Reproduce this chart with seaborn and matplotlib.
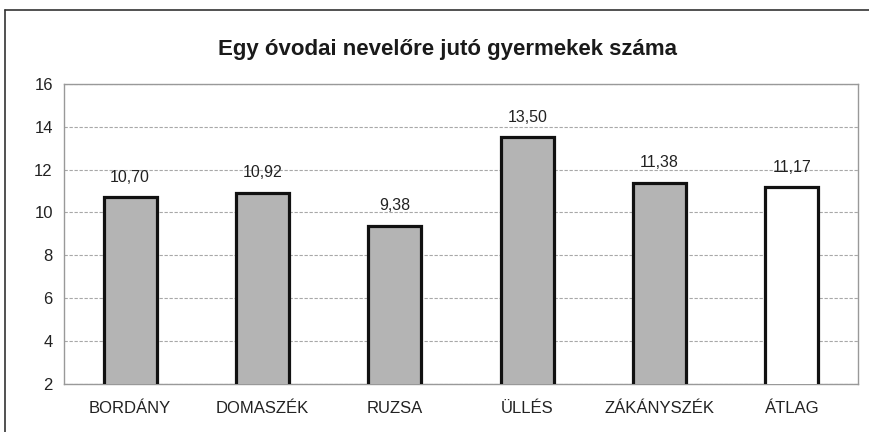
import matplotlib
matplotlib.use("Agg")
import matplotlib.pyplot as plt
from matplotlib.lines import Line2D
import seaborn as sns
import pandas as pd

# values
telepulesek = ["BORDÁNY", "DOMASZÉK", "RUZSA", "ÜLLÉS", "ZÁKÁNYSZÉK", "ÁTLAG"]
gyermek_per_nevelo = [10.70, 10.92, 9.38, 13.50, 11.38, 11.17]
cimkek = ["10,70", "10,92", "9,38", "13,50", "11,38", "11,17"]
y_ticks = [2, 4, 6, 8, 10, 12, 14, 16]

df = pd.DataFrame({"telepules": telepulesek, "ertek": gyermek_per_nevelo})

sns.set_theme(style="white")
plt.rcParams["font.family"] = ["Liberation Sans", "DejaVu Sans"]

fig = plt.figure(figsize=(8.69, 4.32), dpi=100)
ax = fig.add_axes([0.0735, 0.111, 0.914, 0.695])

colors = ["#b4b4b4"] * 5 + ["#ffffff"]
sns.barplot(data=df, x="telepules", y="ertek", hue="telepules", palette=colors,
            legend=False, width=0.4, edgecolor="#111111", linewidth=2.3, ax=ax,
            zorder=3)

for i, (v, lab) in enumerate(zip(gyermek_per_nevelo, cimkek)):
    ax.text(i, v + 0.6, lab, ha="center", va="bottom", fontsize=11.5, color="#222222")

ax.set_ylim(2, 16)
ax.set_yticks(y_ticks)
ax.set_xlim(-0.5, 5.5)
ax.yaxis.grid(True, color="#a8a8a8", linestyle=(0, (3, 1.5)), linewidth=0.8, zorder=0)
ax.set_axisbelow(True)
ax.set_xlabel("")
ax.set_ylabel("")
ax.tick_params(axis="both", labelsize=12, colors="#222222", length=0, pad=8)
ax.tick_params(axis="x", pad=12)
for s in ax.spines.values():
    s.set_color("#999999")
    s.set_linestyle((0, (2, 1)))
    s.set_linewidth(1.0)

fig.text(0.515, 0.885, "Egy óvodai nevelőre jutó gyermekek száma", ha="center",
         va="center", fontsize=16, fontweight="semibold", color="#1a1a1a")

# scan frame lines
fig.add_artist(Line2D([0.006, 1.0], [0.976, 0.976], color="#333333", linewidth=1.2))
fig.add_artist(Line2D([0.006, 0.006], [0.0, 0.976], color="#333333", linewidth=1.2))

fig.savefig("out.png", dpi=100)
